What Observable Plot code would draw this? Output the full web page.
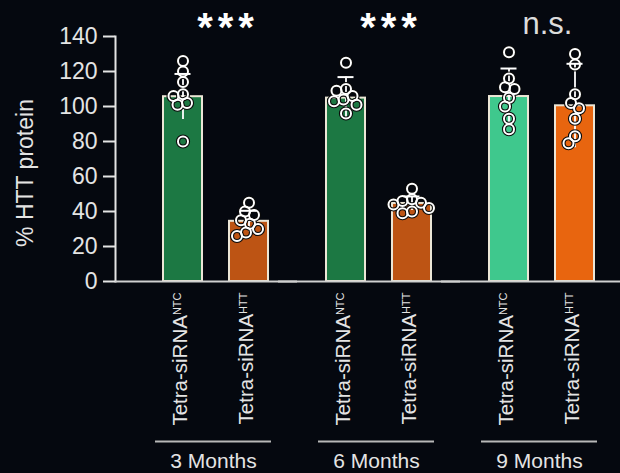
<!DOCTYPE html>
<html><head><meta charset="utf-8">
<script src="https://cdn.jsdelivr.net/npm/d3@7"></script>
<script src="https://cdn.jsdelivr.net/npm/@observablehq/plot@0.6"></script>
<style>html,body{margin:0;padding:0;background:#05080f;overflow:hidden;}</style>
</head><body><div id="chart"></div>
<script>
// ---- data ----
const months = ["3 Months", "6 Months", "9 Months"];
const treatments = ["NTC", "HTT"];
const meanNTC = [105.6, 104.8, 105.7];
const meanHTT = [34.4, 44.6, 100.4];
const sdNTC = [13, 12, 16];
const sdHTT = [6, 4, 24];
const significance = ["***", "***", "n.s."];
const yTicks = [0, 20, 40, 60, 80, 100, 120, 140];
const dots3NTC = [126, 120, 114, 107, 106, 102, 101, 80];
const dots3HTT = [45, 40, 38, 35, 33, 30, 28, 26];
const dots6NTC = [125, 110, 109, 106, 104, 103, 101, 96];
const dots6HTT = [53, 47, 46, 45, 44, 42, 40, 39];
const dots9NTC = [131, 116, 111, 110, 105, 100, 93, 87];
const dots9HTT = [130, 124, 107, 102, 99, 93, 83, 79];

// ---- styles ----
const barColors = {
  "3 Months|NTC": "#1c7843", "3 Months|HTT": "#bd5414",
  "6 Months|NTC": "#1c7843", "6 Months|HTT": "#bd5414",
  "9 Months|NTC": "#3fc88d", "9 Months|HTT": "#e8650f"
};

// ---- tables ----
const bars = months.flatMap((m, i) => [
  {month: m, group: "NTC", mean: meanNTC[i], sd: sdNTC[i]},
  {month: m, group: "HTT", mean: meanHTT[i], sd: sdHTT[i]}
]);
const dotSets = [[dots3NTC, dots3HTT], [dots6NTC, dots6HTT], [dots9NTC, dots9HTT]];
const points = months.flatMap((m, i) => treatments.flatMap((t, j) =>
  dotSets[i][j].map(v => ({month: m, group: t, value: v}))));
const sig = months.map((m, i) => ({month: m, label: significance[i]}));

// beeswarm around each bar's centre (a dodge layout)
const R = 5;
function swarm(options) {
  return Plot.initializer(options, (data, facets, channels, scales) => {
    const sx = scales.x, sy = scales.y;
    const n = data.length;
    const X = new Float64Array(n), Y = new Float64Array(n);
    for (let i = 0; i < n; i++) {
      X[i] = sx(channels.x.value[i]);
      Y[i] = sy(channels.y.value[i]);
    }
    const groups = d3.group(d3.range(n), i => data[i].month + "|" + data[i].group);
    const minD = 9.5;
    for (const idx of groups.values()) {
      idx.sort((a, b) => Y[a] - Y[b]);
      const placed = [];
      for (const i of idx) {
        const cx = X[i];
        for (let k = 0; k < 400; k++) {
          const o = (k % 2 ? -1 : 1) * Math.ceil(k / 2) * 0.5;
          const x = cx + o;
          if (placed.every(p => (p[0] - x) ** 2 + (p[1] - Y[i]) ** 2 >= minD * minD)) {
            X[i] = x; break;
          }
        }
        placed.push([X[i], Y[i]]);
      }
    }
    return {data, facets, channels: {x: {value: X}, y: {value: Y}}};
  });
}

const plot = Plot.plot({
  width: 620, height: 473,
  marginTop: 36, marginBottom: 192, marginLeft: 136, marginRight: 0,
  style: {background: "#05080f", color: "#e4e4e4", fontFamily: "'Liberation Sans', Arial, sans-serif", overflow: "visible"},
  fx: {domain: months, paddingInner: 0.0307, paddingOuter: 0, axis: null, label: null},
  x: {domain: treatments, paddingInner: 0.4135, paddingOuter: 0.3947, axis: null, label: null},
  y: {domain: [0, 140], axis: null},
  color: {type: "identity"},
  marks: [
    Plot.axisY({ticks: yTicks, tickSize: 12, tickPadding: 6, fontSize: 23, dx: -21, strokeWidth: 2, label: null}),
    Plot.frame({anchor: "left", facetAnchor: "left", dx: -21, strokeWidth: 2}),
    Plot.barY(bars, {fx: "month", x: "group", y: "mean", fill: d => barColors[d.month + "|" + d.group], stroke: "#ece6d6", strokeWidth: 2}),
    Plot.ruleX(bars, {fx: "month", x: "group", y1: d => d.mean - d.sd, y2: d => d.mean + d.sd, stroke: "white", strokeWidth: 1.8}),
    Plot.dot(points, swarm({fx: "month", x: "group", y: "value", r: R, stroke: "#0b0b0b", strokeWidth: 4.2, fill: "none"})),
    Plot.dot(points, swarm({fx: "month", x: "group", y: "value", r: R, stroke: "white", strokeWidth: 2, fill: "none"})),
    Plot.tickY(bars, {fx: "month", x: "group", y: d => d.mean + d.sd, stroke: "white", strokeWidth: 2, insetLeft: 11.5, insetRight: 11.5}),
    Plot.ruleY([0], {insetLeft: -21, insetRight: -3, strokeWidth: 2, stroke: "#d0d0d0"}),
    Plot.axisX({tickSize: 0, tickPadding: 11, tickRotate: -90, fontSize: 20.5, tickFormat: t => "Tetra-siRNA" + t, dx: -2.5, label: null}),
    Plot.ruleY([0], {dy: 160, insetLeft: 19, insetRight: 23, strokeWidth: 2, stroke: "#b8b8b8"}),
    Plot.axisFx({anchor: "bottom", tickSize: 0, tickPadding: 172, fontSize: 21, label: null, dx: -2}),
    Plot.text(sig.filter(d => d.label === "***"), {fx: "month", text: "label", frameAnchor: "top", lineAnchor: "bottom", dy: 4.8, dx: 12.5, fontSize: 40, fontWeight: "bold", fill: "white"}),
    Plot.text(sig.filter(d => d.label !== "***"), {fx: "month", text: "label", frameAnchor: "top", lineAnchor: "bottom", dy: -3, dx: 6, fontSize: 31, fill: "#dcdcdc"}),
    Plot.text([months[0]], {fx: d => d, text: () => "% HTT protein", frameAnchor: "left", textAnchor: "middle", rotate: -90, dx: -111, dy: 14, fontSize: 23})
  ]
});

// superscripts and letter spacing
const NS = "http://www.w3.org/2000/svg";
plot.querySelectorAll("text").forEach(t => {
  const s = t.textContent;
  const m = s.match(/^(Tetra-siRNA)(NTC|HTT)$/);
  if (m) {
    t.textContent = "";
    const a = document.createElementNS(NS, "tspan"); a.textContent = m[1];
    const b = document.createElementNS(NS, "tspan"); b.textContent = m[2];
    b.setAttribute("font-size", 11); b.setAttribute("dy", -6);
    t.append(a, b);
  } else if (s === "***") {
    t.setAttribute("letter-spacing", 5);
  }
});
document.getElementById("chart").append(plot);
</script>
</body></html>
